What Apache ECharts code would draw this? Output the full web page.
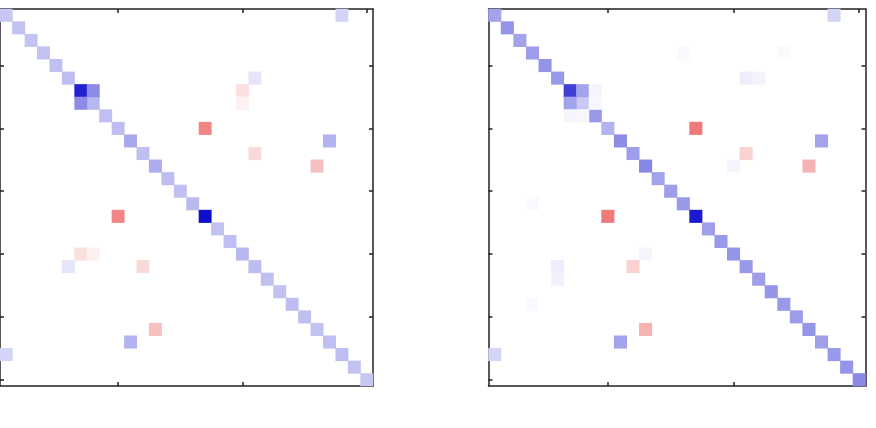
<!DOCTYPE html>
<html>
<head>
<meta charset="utf-8">
<script src="https://cdn.jsdelivr.net/npm/echarts@6/dist/echarts.min.js"></script>
<style>
  html, body { margin: 0; padding: 0; background: #fff; }
  #chart { width: 876px; height: 428px; }
</style>
</head>
<body>
<div id="chart"></div>
<script>
// 30 x 30 symmetric matrices, index 1..30
const categories = Array.from({ length: 30 }, (_, i) => String(i + 1));

// diagonal values, left panel
const diagLeft = [
  0.22, 0.24, 0.23, 0.24, 0.25, 0.26, 0.87, 0.28, 0.25, 0.26,
  0.34, 0.25, 0.33, 0.26, 0.25, 0.27, 0.94, 0.24, 0.25, 0.28,
  0.26, 0.25, 0.24, 0.26, 0.25, 0.24, 0.25, 0.26, 0.24, 0.22
];
// off-diagonal [row, col, value], mirrored
const offLeft = [
  [7, 8, 0.45],
  [1, 28, 0.17],
  [6, 21, 0.1],
  [7, 20, -0.12],
  [8, 20, -0.06],
  [10, 17, -0.48],
  [12, 21, -0.15],
  [11, 27, 0.3],
  [13, 26, -0.25]
];

// diagonal values, right panel
const diagRight = [
  0.36, 0.42, 0.36, 0.39, 0.42, 0.4, 0.75, 0.21, 0.4, 0.3,
  0.45, 0.38, 0.47, 0.36, 0.38, 0.4, 0.9, 0.38, 0.4, 0.42,
  0.4, 0.38, 0.42, 0.4, 0.39, 0.41, 0.38, 0.4, 0.42, 0.46
];
const offRight = [
  [7, 8, 0.36],
  [7, 9, 0.04],
  [8, 9, 0.03],
  [1, 28, 0.17],
  [6, 21, 0.07],
  [6, 22, 0.05],
  [10, 17, -0.52],
  [12, 21, -0.18],
  [11, 27, 0.36],
  [13, 26, -0.3],
  [13, 20, 0.04],
  [4, 16, 0.025],
  [4, 24, 0.025]
];

function buildMatrix(diag, off) {
  const out = diag.map((v, i) => [i, i, v]);
  off.forEach(([r, c, v]) => {
    out.push([c - 1, r - 1, v]);
    out.push([r - 1, c - 1, v]);
  });
  return out;
}

const chart = echarts.init(document.getElementById('chart'));

const lineStyle = { color: '#222', width: 1.5 };
const tickStyle = { color: '#222', width: 1.5 };

function xAx(gridIndex, position) {
  return {
    type: 'category', data: categories, gridIndex, position,
    axisLine: { show: true, lineStyle },
    axisTick: { show: true, inside: true, length: 4, alignWithLabel: true,
      interval: (i) => (i + 1) % 10 === 0, lineStyle: tickStyle },
    axisLabel: { show: false },
    splitLine: { show: false }
  };
}
function yAx(gridIndex, position) {
  return {
    type: 'category', data: categories, gridIndex, position, inverse: true,
    axisLine: { show: true, lineStyle },
    axisTick: { show: true, inside: true, length: 4, alignWithLabel: true,
      interval: (i) => (i + 1) % 5 === 0, lineStyle: tickStyle },
    axisLabel: { show: false },
    splitLine: { show: false }
  };
}

const option = {
  backgroundColor: '#fff',
  animation: false,
  grid: [
    { left: -4, top: 9, width: 377, height: 377 },
    { left: 488.5, top: 9, width: 377, height: 377 }
  ],
  xAxis: [xAx(0, 'bottom'), xAx(0, 'top'), xAx(1, 'bottom'), xAx(1, 'top')],
  yAxis: [yAx(0, 'left'), yAx(0, 'right'), yAx(1, 'left'), yAx(1, 'right')],
  visualMap: {
    show: false,
    type: 'continuous',
    min: -1,
    max: 1,
    seriesIndex: [0, 1],
    inRange: { color: ['#e00000', '#ffffff', '#0000c8'] }
  },
  series: [
    {
      type: 'heatmap', xAxisIndex: 0, yAxisIndex: 0,
      data: buildMatrix(diagLeft, offLeft), z: 1
    },
    {
      type: 'heatmap', xAxisIndex: 2, yAxisIndex: 2,
      data: buildMatrix(diagRight, offRight), z: 1
    }
  ]
};

chart.setOption(option);
</script>
</body>
</html>
